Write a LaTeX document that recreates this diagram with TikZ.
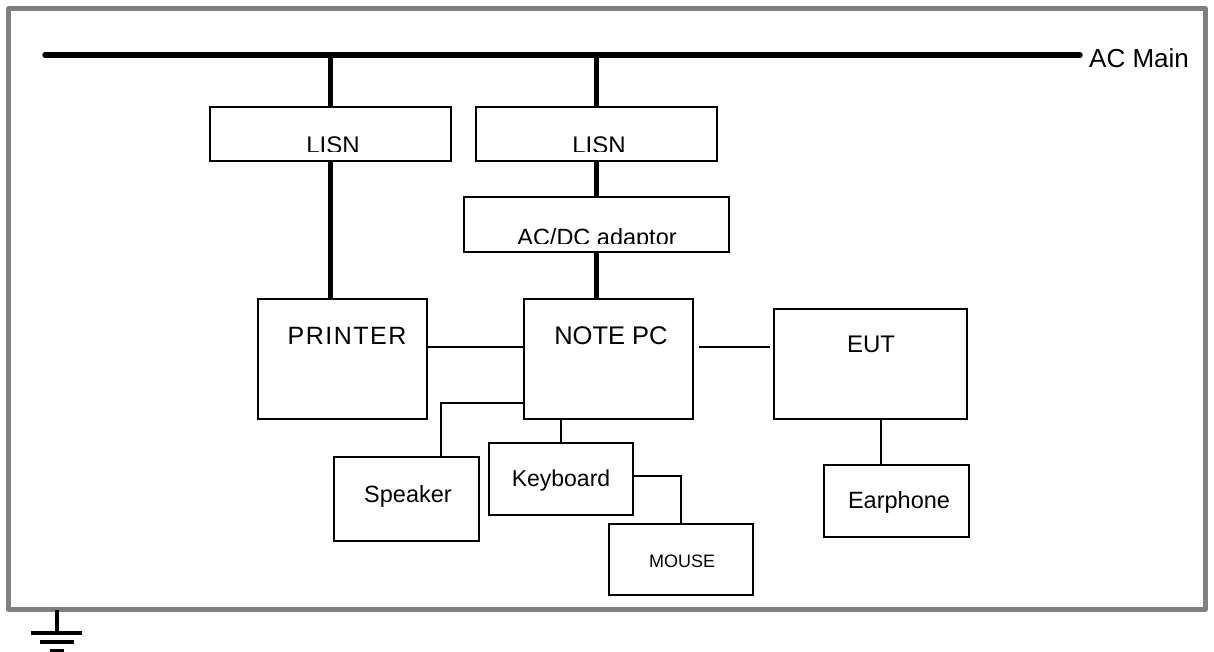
\documentclass[tikz,border=0pt]{standalone}
\usepackage{fontspec}
\setmainfont{Liberation Sans}
\usetikzlibrary{fit}
\begin{document}
\begin{tikzpicture}[x=1pt,y=-1pt,
  box/.style={draw=black, line width=2pt, fill=white, inner sep=0pt, rectangle},
  wire/.style={draw=black, line width=2pt},
  mains/.style={draw=black, line width=5.5pt},
  lbl/.style={inner sep=0pt, text=black},
  frame/.style={draw=black!50, line width=5pt, line join=round}]
\useasboundingbox (0,0) rectangle (1214,652);
\fill[white] (0,0) rectangle (1214,652);
% outer frame
\draw[frame] (8.5,8.5) rectangle (1205,609.5);
% AC main bus
\coordinate (busL) at (45,55);
\coordinate (busR) at (1080,55);
\draw[mains, line cap=round] (busL) -- (busR);
\node[lbl, anchor=west] (acmain) at (1089,58) {\fontsize{26}{30}\selectfont AC Main};
% boxes
\node[box, fit={(210,107) (451,161)}] (lisn1) {};
\node[box, fit={(476,107) (717,161)}] (lisn2) {};
\node[box, fit={(464,197) (729,252)}] (adaptor) {};
\node[box, fit={(258,299) (427,419)}] (printer) {};
\node[box, fit={(524,299) (693,419)}] (notepc) {};
\node[box, fit={(774,309) (967,419)}] (eut) {};
\node[box, fit={(334,457) (479,541)}] (speaker) {};
\node[box, fit={(489,443) (633,515)}] (keyboard) {};
\node[box, fit={(609,524) (753,595)}] (mouse) {};
\node[box, fit={(824,465) (969,537)}] (earphone) {};
% clipped labels
\begin{scope}
\clip ([xshift=1pt,yshift=-1pt]lisn1.north west) rectangle ([yshift=10pt]lisn1.south east);
\node[lbl, anchor=base] (lisn1t) at (333,154) {\fontsize{24}{28}\selectfont LISN};
\end{scope}
\begin{scope}
\clip ([xshift=1pt,yshift=-1pt]lisn2.north west) rectangle ([yshift=10pt]lisn2.south east);
\node[lbl, anchor=base] (lisn2t) at (599,154) {\fontsize{24}{28}\selectfont LISN};
\end{scope}
\begin{scope}
\clip ([xshift=1pt,yshift=-1pt]adaptor.north west) rectangle ([yshift=10pt]adaptor.south east);
\node[lbl, anchor=base] (adaptort) at (597,245) {\fontsize{23.5}{27}\selectfont AC/DC adaptor};
\end{scope}
% labels
\node[lbl] (printert) at (347,336) {\fontsize{25}{30}\selectfont\addfontfeature{LetterSpace=6}PRINTER};
\node[lbl] (notepct) at (611,336) {\fontsize{25.5}{30}\selectfont NOTE PC};
\node[lbl] (eutt) at (871,344) {\fontsize{24}{28}\selectfont EUT};
\node[lbl] (speakert) at (408,496) {\fontsize{23.5}{27}\selectfont Speaker};
\node[lbl] (keyboardt) at (561,481) {\fontsize{23}{27}\selectfont Keyboard};
\node[lbl] (mouset) at (682,561) {\fontsize{18}{21}\selectfont MOUSE};
\node[lbl] (earphonet) at (899,502) {\fontsize{23.5}{27}\selectfont Earphone};
% mains connections
\draw[mains] (lisn1.north) -- (lisn1.north |- busL);
\draw[mains] (lisn2.north) -- (lisn2.north |- busL);
\draw[mains] (lisn1.south) -- (lisn1.south |- printer.north);
\draw[mains] (lisn2.south) -- (adaptor.north);
\draw[mains] (adaptor.south) -- (adaptor.south |- notepc.north);
% signal connections
\coordinate (lvl) at (0,347);
\draw[wire] (printer.east |- lvl) -- (notepc.west |- lvl);
\draw[wire, shorten <=5pt, shorten >=3pt] (notepc.east |- lvl) -- (eut.west |- lvl);
\coordinate (spk) at (441,403);
\draw[wire] (notepc.west |- spk) -| (spk |- speaker.north);
\draw[wire] (keyboard.north) -- (keyboard.north |- notepc.south);
\coordinate (ms) at (681,476);
\draw[wire] (keyboard.east |- ms) -| (ms |- mouse.north);
\coordinate (ep) at (881,0);
\draw[wire] (ep |- eut.south) -- (ep |- earphone.north);
% ground symbol
\coordinate (gnd) at (57,633);
\draw[line width=3.5pt] (gnd |- 0,609.5) -- (gnd);
\draw[line width=3.5pt] (31,633) -- (82,633);
\draw[line width=3.5pt] (40,642) -- (74,642);
\draw[line width=3.5pt] (50,651) -- (64,651);
\end{tikzpicture}
\end{document}
